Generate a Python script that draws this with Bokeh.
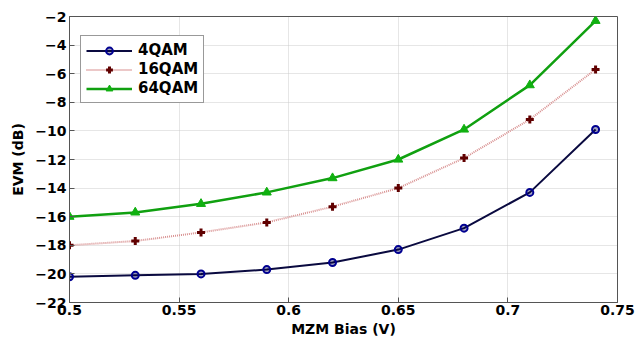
from bokeh.plotting import figure
from bokeh.models import FixedTicker, Range1d, Legend, LegendItem
from bokeh.embed import file_html
from bokeh.resources import INLINE

bias = [0.50, 0.53, 0.56, 0.59, 0.62, 0.65, 0.68, 0.71, 0.74]
evm_4qam = [-20.2, -20.1, -20.0, -19.7, -19.2, -18.3, -16.8, -14.3, -9.9]
evm_16qam = [-18.0, -17.7, -17.1, -16.4, -15.3, -14.0, -11.9, -9.2, -5.7]
evm_64qam = [-16.0, -15.7, -15.1, -14.3, -13.3, -12.0, -9.9, -6.8, -2.3]
x_ticks = [0.5, 0.55, 0.6, 0.65, 0.7, 0.75]
y_ticks = [-22, -20, -18, -16, -14, -12, -10, -8, -6, -4, -2]

FONT = "DejaVu Sans"

p = figure(width=637, height=345, output_backend="svg", toolbar_location=None,
           x_range=Range1d(0.5, 0.75), y_range=Range1d(-22, -2),
           min_border_left=69, min_border_right=20, min_border_top=16, min_border_bottom=43)

p.background_fill_color = "white"
p.border_fill_color = "white"
p.outline_line_color = "#555555"
p.outline_line_width = 1

for ax in (p.xaxis[0], p.yaxis[0]):
    ax.major_label_text_font = FONT
    ax.major_label_text_font_style = "bold"
    ax.major_label_text_font_size = "14px"
    ax.major_label_text_color = "black"
    ax.axis_label_text_font = FONT
    ax.axis_label_text_font_style = "bold"
    ax.axis_label_text_font_size = "14px"
    ax.axis_label_text_color = "black"
    ax.axis_line_color = "#555555"
    ax.major_tick_in = 5
    ax.major_tick_out = 0
    ax.minor_tick_line_color = None
    ax.major_tick_line_color = "#555555"

p.xaxis[0].ticker = FixedTicker(ticks=x_ticks)
p.yaxis[0].ticker = FixedTicker(ticks=y_ticks)
p.xaxis[0].axis_label = "MZM Bias (V)"
p.yaxis[0].axis_label = "EVM (dB)"
p.xaxis[0].major_label_standoff = 2
p.yaxis[0].major_label_standoff = 3
p.xaxis[0].axis_label_standoff = 3
p.yaxis[0].axis_label_standoff = 6

p.xgrid.ticker = FixedTicker(ticks=x_ticks)
p.ygrid.ticker = FixedTicker(ticks=y_ticks)
p.grid.grid_line_color = "#cccccc"
p.grid.grid_line_dash = "1 1"
p.grid.grid_line_width = 1

l1 = p.line(bias, evm_4qam, line_color="#0a0a40", line_width=2)
m1 = p.scatter(bias, evm_4qam, marker="circle", size=7, line_color="#000090",
               fill_color="#000050", fill_alpha=0.35, line_width=2)
l2 = p.line(bias, evm_16qam, line_color="#d89090", line_width=2, line_dash="1 1")
m2 = p.scatter(bias, evm_16qam, marker="cross", size=8, line_color="#600000", line_width=3)
l3 = p.line(bias, evm_64qam, line_color="#10a010", line_width=2.5)
m3 = p.scatter(bias, evm_64qam, marker="triangle", size=9, line_color="#10b010",
               fill_color="#10b010", line_width=1)

legend = Legend(items=[
    LegendItem(label="4QAM", renderers=[l1, m1]),
    LegendItem(label="16QAM", renderers=[l2, m2]),
    LegendItem(label="64QAM", renderers=[l3, m3]),
], location=(11, 199))
legend.label_text_font = FONT
legend.label_text_font_style = "bold"
legend.label_text_font_size = "15px"
legend.label_text_color = "black"
legend.glyph_width = 46
legend.glyph_height = 17
legend.label_height = 17
legend.spacing = 1
legend.padding = 5
legend.margin = 0
legend.label_standoff = 6
legend.border_line_color = "#333333"
legend.border_line_width = 1
legend.background_fill_color = "white"
legend.background_fill_alpha = 1
p.add_layout(legend, "center")

open("out.html", "w").write(file_html(p, INLINE))
